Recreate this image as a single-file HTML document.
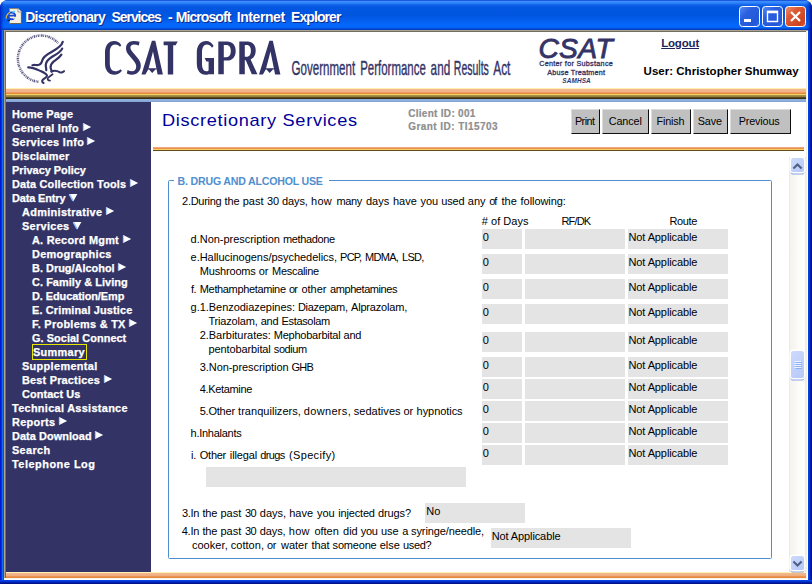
<!DOCTYPE html>
<html><head><meta charset="utf-8"><title>Discretionary Services</title>
<style>
html,body{margin:0;padding:0;}
body{width:812px;height:584px;position:relative;overflow:hidden;background:#fff;font-family:"Liberation Sans",sans-serif;}
div,span,svg{position:absolute;box-sizing:border-box;}
.t{white-space:pre;transform-origin:0 50%;}
.a{overflow:visible;}
#win{left:0;top:0;width:812px;height:584px;border-radius:8px 8px 0 0;overflow:hidden;
 background:#0A4CDC;}
#tb{left:0;top:0;width:812px;height:30px;
 background:linear-gradient(to bottom,#0A3FD0 0px,#3C8EFF 1.5px,#2F82FA 3px,#0F62EA 5px,#0356E1 7px,#0055DF 15px,#035DEC 20px,#0468FC 25px,#0464F6 27.5px,#0350DC 28.6px,#0236AE 30px);}
#bl{left:0;top:30px;width:4px;height:554px;background:linear-gradient(to right,#0019CF 0,#0019CF 1px,#0A34DA 1px,#0A34DA 2px,#166AEE 2px,#166AEE 3px,#0550DC 3px,#0550DC 4px);}
#br{left:808px;top:30px;width:4px;height:554px;background:linear-gradient(to right,#0540E2 0,#0540E2 1px,#0438D8 1px,#0438D8 2px,#001CA8 2px,#001CA8 3px,#00138C 3px,#00138C 4px);}
#bb{left:0;top:580px;width:812px;height:4px;background:linear-gradient(to bottom,#0540E4 0,#0540E4 1px,#0335D0 1px,#0335D0 2px,#001EA8 2px,#001EA8 3px,#00138C 3px,#00138C 4px);}
#in1{left:4px;top:30px;width:804px;height:550px;background:#fff;border-top:1px solid #ACA391;border-left:1px solid #ACA391;}
#in2{left:5px;top:31px;width:801px;height:547px;border-top:1px solid #716F64;border-left:1px solid #716F64;}
#page{left:6px;top:32px;width:800px;height:546px;background:#fff;overflow:hidden;}
/* inside #page coordinates are page-relative, so we shift with a wrapper */
#abs{left:-6px;top:-32px;width:812px;height:584px;}
#stripe{left:6px;top:88px;width:800px;height:14px;
 background:linear-gradient(to bottom,#FFEEB0 0,#FFEEB0 1px,#F2B88C 1px,#EFB389 4px,#EC9C64 4px,#EC9C64 5px,#E8883F 5px,#E8883F 6px,#F2D262 6px,#F2D262 7px,#B09A4C 7px,#8C7838 9px,#5C4A1C 9px,#5C4A1C 10px,#3A2E10 10px,#3A2E10 11px,#90B0DE 11px,#8CACDA 13px,#809FCD 14px);}
#side{left:6px;top:102px;width:145px;height:470px;background:#333366;}
#bstripe{left:6px;top:572px;width:800px;height:6px;
 background:linear-gradient(to bottom,#FFEFB4 0,#FFEFB4 1px,#F1B78B 1px,#F0B286 3px,#EFA878 4px,#EA9452 4px,#EA9452 5px,#E8873E 5px,#E8873E 6px);}
#mstripe{left:153px;top:147px;width:651px;height:4px;
 background:linear-gradient(to bottom,#F0A878 0,#F0A878 1px,#E99058 1px,#E99058 2px,#F8D060 2px,#F8D060 3px,#5E4C1A 3px,#5E4C1A 4px);}
.btn{top:109px;height:25px;background:#C0C0C0;border-top:1px solid #DCDCDC;border-left:1px solid #DCDCDC;border-right:1px solid #101010;border-bottom:1px solid #101010;
 }
.f{height:20px;background:#E4E4E4;}
#fs{left:168px;top:180px;width:604px;height:379px;border:1px solid #4F8FCF;border-radius:1.5px;}
#fsgap{left:174px;top:179px;width:155px;height:3px;background:#fff;}
#sb{left:789px;top:157px;width:17px;height:415px;background:linear-gradient(to right,#ECEBE2 0,#ECEBE2 1px,#F4F3EE 1px,#F8F7F3 6px,#FCFCF9 10px,#FEFEFB 16px,#EFEEE4 16px,#EFEEE4 17px);}
.sbb{left:790.6px;width:13.6px;height:14px;border-radius:2.5px;background:linear-gradient(135deg,#CDDAFC 0,#C3D2FA 45%,#B6C8F7 100%);box-shadow:0 0 0 1.4px #fff,0 2px 0 0.6px #86A6DE;}
</style></head>
<body>
<div style="left:804px;top:0;width:8px;height:8px;background:#FFF6D2"></div>
<div id="win">
 <div id="tb"></div><div style="left:0;top:0;width:4px;height:30px;background:linear-gradient(to right,rgba(0,25,190,0.9) 0,rgba(0,40,200,0.55) 1.5px,rgba(0,50,210,0) 4px)"></div><div style="left:806px;top:0;width:6px;height:30px;background:linear-gradient(to right,rgba(0,30,180,0) 0,rgba(0,30,180,0.45) 3px,rgba(0,20,150,0.95) 5px,#00138C 6px)"></div><div id="bl"></div><div id="br"></div><div id="bb"></div>
 <div id="in1"></div><div id="in2"></div>
 <!-- IE icon -->
 <svg style="left:5px;top:7px" width="18" height="18" viewBox="0 0 18 18">
  <path d="M4.5 1.5H13L16.5 5V16.5H4.5Z" fill="#F4F1E4" stroke="#8C8672" stroke-width="1"/>
  <path d="M13 1.5V5H16.5" fill="#fff" stroke="#8C8672" stroke-width="0.8"/>
  <path d="M5.2 16.5H16.5V5.5" fill="none" stroke="#6A6454" stroke-width="1.2"/>
  <ellipse cx="6.4" cy="8.9" rx="3.7" ry="3.4" fill="none" stroke="#1848D0" stroke-width="2.1"/>
  <path d="M3 8.6H10.6" stroke="#1848D0" stroke-width="1.6"/>
  <path d="M8.0 9.7H11.8V11.7H8.0Z" fill="#F0EDE0"/>
  <path d="M7.6 5.6L9.8 4.2" stroke="#40C8F0" stroke-width="1.4"/>
  <path d="M1.0 11.6C1.2 8.8 2.8 6.4 5.0 5.2" fill="none" stroke="#E0C040" stroke-width="1.1"/>
  <path d="M2.6 13.4H5" stroke="#101020" stroke-width="1"/>
 </svg>
 <span class="t" style="left:25.20px;top:7.95px;font-size:14px;line-height:18px;color:#fff;font-weight:bold;letter-spacing:-0.733px;text-shadow:1px 1px 0 #0A2A8C;">Discretionary</span>
<span class="t" style="left:111.50px;top:7.95px;font-size:14px;line-height:18px;color:#fff;font-weight:bold;letter-spacing:-1.060px;text-shadow:1px 1px 0 #0A2A8C;">Services</span>
<span class="t" style="left:167.90px;top:7.95px;font-size:14px;line-height:18px;color:#fff;font-weight:bold;text-shadow:1px 1px 0 #0A2A8C;">-</span>
<span class="t" style="left:175.70px;top:7.95px;font-size:14px;line-height:18px;color:#fff;font-weight:bold;letter-spacing:-0.917px;text-shadow:1px 1px 0 #0A2A8C;">Microsoft</span>
<span class="t" style="left:236.70px;top:7.95px;font-size:14px;line-height:18px;color:#fff;font-weight:bold;letter-spacing:-0.425px;text-shadow:1px 1px 0 #0A2A8C;">Internet</span>
<span class="t" style="left:291.00px;top:7.95px;font-size:14px;line-height:18px;color:#fff;font-weight:bold;letter-spacing:-0.922px;text-shadow:1px 1px 0 #0A2A8C;">Explorer</span>
 <!-- window buttons -->
 <svg style="left:738px;top:5px" width="70" height="24" viewBox="738 5 70 24">
  <defs>
   <linearGradient id="gb" x1="0" y1="0" x2="1" y2="1"><stop offset="0" stop-color="#5A8CF5"/><stop offset="0.35" stop-color="#2A5FE0"/><stop offset="0.8" stop-color="#2258D8"/><stop offset="1" stop-color="#3A70EE"/></linearGradient>
   <linearGradient id="gr" x1="0" y1="0" x2="1" y2="1"><stop offset="0" stop-color="#EE9070"/><stop offset="0.35" stop-color="#DB5A34"/><stop offset="0.8" stop-color="#CC4320"/><stop offset="1" stop-color="#E0603A"/></linearGradient>
  </defs>
  <rect x="739.5" y="6.5" width="20" height="20" rx="3" fill="url(#gb)" stroke="#fff" stroke-width="1"/>
  <rect x="762.5" y="6.5" width="20" height="20" rx="3" fill="url(#gb)" stroke="#fff" stroke-width="1"/>
  <rect x="785.5" y="6.5" width="20" height="20" rx="3" fill="url(#gr)" stroke="#fff" stroke-width="1"/>
  <rect x="744" y="19" width="7" height="3" fill="#fff"/>
  <path d="M767.5 11.5H777.5V21.5H767.5Z" fill="none" stroke="#fff" stroke-width="1.4"/><path d="M767 12H778" stroke="#fff" stroke-width="2.6"/>
  <path d="M791 12L800 21M800 12L791 21" stroke="#fff" stroke-width="2.2"/>
 </svg>

 <div id="page"><div id="abs">
  <div id="stripe"></div>
  <div id="side"></div>
  <div id="bstripe"></div>
  <div id="mstripe"></div>
  <!-- HHS eagle logo -->
  <svg style="left:12px;top:34px" width="58" height="54" viewBox="12 34 58 54">
   <path d="M38.4 81.8 A23.2 23.2 0 1 1 58.3 43.2" fill="none" stroke="#333366" stroke-width="2.5" stroke-dasharray="1.2 0.7 0.7 0.8 1.5 0.7 0.9 0.9" opacity="0.8"/>
   <g fill="none" stroke="#333366" stroke-linecap="round">
    <path d="M62.8 41.8 C61.8 46 56.5 49.3 51.5 52 C46.5 54.6 43.2 56.6 42.2 60.6 C41.6 63.2 40.6 64.8 38.2 65.0 C36 65.2 34.2 64.6 32.4 65.2" stroke-width="2.2"/>
    <path d="M62.2 48.6 C60.6 52.2 55.8 54.6 51.8 57 C48.2 59.2 46.2 61.4 45.8 64.6 C45.5 67 46.6 68.4 46.2 70.2" stroke-width="2.2"/>
    <path d="M61.4 54.6 C59.6 57.6 56.4 59.4 53.8 61.4 C51.4 63.4 50.4 65.4 50.6 67.6 C50.8 69.4 51.8 70.2 51.6 71.6" stroke-width="2.2"/>
    <path d="M28.2 67.4 C31.6 67.2 35.4 68.8 39.6 70.6 C43.2 72.2 46.4 73.4 47 75.6 C47.4 77.4 44.4 78 42.8 79.8 C41.6 81.2 42.2 82.6 43.6 83.0" stroke-width="2.1"/>
    <path d="M51.4 71.4 C54.2 70.4 57.2 70.8 59.6 72.2 C61.2 73.0 62.6 72.4 64.0 71.2" stroke-width="2.1"/>
    <path d="M52.6 74.2 C50.8 75.6 48.6 76.6 47.8 78.2 C47.2 79.6 48.2 80.6 50.0 80.6" stroke-width="1.8"/>
   </g>
  </svg>
  <!-- CSAT GPRA wordmark -->
  <svg style="left:100px;top:36px" width="420" height="46" viewBox="100 36 420 46">
   <g fill="#333366">
    <!-- C -->
    <path d="M121.3 45.2 C119.6 42.4 117 41 114.2 41 C108.6 41 105 45.4 105 52.5 V63.5 C105 70.4 108.6 74.8 114.2 74.8 C117.2 74.8 120 73.4 121.9 70.8 L120.6 69.2 C118.8 70.6 117 71.2 115.4 71.2 C111.8 71.2 109.8 68.4 109.8 63.5 V52.5 C109.8 47.4 111.8 44.6 115.2 44.6 C117 44.6 118.6 45.4 120.0 46.8 Z"/>
    <!-- S -->
    <path d="M139.6 41.8 L138.8 45.6 C137 44.8 135.4 44.4 134 44.4 C131.6 44.4 130.4 45.8 130.4 47.6 C130.4 49.4 131.4 50.8 133.2 52.8 L137.2 57.4 C139.6 60.2 140.8 62.6 140.8 65.6 C140.8 70.8 137.2 74.8 132 74.8 C130.2 74.8 128.4 74.4 126.8 73.6 L127.6 70 C129 70.8 130.6 71.2 132 71.2 C134.6 71.2 136.2 69.2 136.2 66.4 C136.2 64.4 135.2 62.6 133.2 60.2 L129.2 55.6 C127.0 53 126.0 50.8 126.0 48.2 C126.0 43.8 129.2 41 133.8 41 C135.8 41 137.8 41.2 139.6 41.8 Z"/>
    <!-- A -->
    <path d="M151.9 40.7 H155.3 L162.9 74.5 H157.6 L153.0 51.5 L148.6 68.3 H156.3 V69.6 H155.4 L152.2 72.9 L149.0 69.6 H148.2 L145.4 74.5 H141.5 Z"/>
    <!-- T -->
    <path d="M163.6 41.6 H177.8 L175.6 45.2 H173.2 V74.5 H167.8 V45.2 H163.6 Z"/>
    <!-- G -->
    <path d="M213.6 46.0 C211.8 42.8 209.2 41 206.2 41 C200.6 41 196.8 45.4 196.8 52.5 V63.5 C196.8 70.4 200.2 74.8 205.6 74.8 C206.8 74.8 207.8 74.6 208.6 74.2 V74.3 H214 V58 H204.6 L206.4 61.6 H208.6 V70.4 C207.8 71 207 71.2 206.2 71.2 C203.4 71.2 202.0 68.4 202.0 63.5 V52.5 C202.0 47.4 203.8 44.6 206.8 44.6 C208.8 44.6 210.6 45.8 212.0 47.8 Z"/>
    <!-- P -->
    <path d="M218.3 41.5 H227.2 C232.4 41.5 235.7 45.2 235.7 51 C235.7 56.8 232.4 60.6 227.2 60.6 H223.8 V74.3 H218.3 Z M223.8 45 V57.2 H226.4 C229.2 57.2 230.8 54.9 230.8 51 C230.8 47.2 229.2 45 226.4 45 Z" fill-rule="evenodd"/>
    <!-- R -->
    <path d="M239.3 41.5 H247.6 C252.6 41.5 255.7 45 255.7 50.6 C255.7 55 253.8 58.2 250.6 59.4 L257.4 74.3 H251.8 L245.8 60.2 H244.8 V74.3 H239.3 Z M244.8 45 V56.8 H246.8 C249.4 56.8 250.9 54.6 250.9 50.8 C250.9 47.2 249.4 45 246.8 45 Z" fill-rule="evenodd"/>
    <!-- A -->
    <path transform="translate(117.5 0)" d="M151.9 40.7 H155.3 L162.9 74.5 H157.6 L153.0 51.5 L148.6 68.3 H156.3 V69.6 H155.4 L152.2 72.9 L149.0 69.6 H148.2 L145.4 74.5 H141.5 Z"/>
   </g>
   <g font-family="Liberation Sans" font-size="20.6" fill="#333366" stroke="#333366" stroke-width="0.4" lengthAdjust="spacingAndGlyphs">
    <text x="291.6" y="74.6" textLength="63.6" lengthAdjust="spacingAndGlyphs">Government</text>
    <text x="360.2" y="74.6" textLength="65.6" lengthAdjust="spacingAndGlyphs">Performance</text>
    <text x="430.6" y="74.6" textLength="19.6" lengthAdjust="spacingAndGlyphs">and</text>
    <text x="453.8" y="74.6" textLength="35.0" lengthAdjust="spacingAndGlyphs">Results</text>
    <text x="493.2" y="74.6" textLength="17.2" lengthAdjust="spacingAndGlyphs">Act</text>
   </g>
  </svg>

  <div id="fs"></div><div id="fsgap"></div>
  <div class="f" style="left:482px;top:229px;width:40px"></div><div class="f" style="left:525px;top:229px;width:100px"></div><div class="f" style="left:628px;top:229px;width:100px"></div><div class="f" style="left:482px;top:254px;width:40px"></div><div class="f" style="left:525px;top:254px;width:100px"></div><div class="f" style="left:628px;top:254px;width:100px"></div><div class="f" style="left:482px;top:279px;width:40px"></div><div class="f" style="left:525px;top:279px;width:100px"></div><div class="f" style="left:628px;top:279px;width:100px"></div><div class="f" style="left:482px;top:304px;width:40px"></div><div class="f" style="left:525px;top:304px;width:100px"></div><div class="f" style="left:628px;top:304px;width:100px"></div><div class="f" style="left:482px;top:332px;width:40px"></div><div class="f" style="left:525px;top:332px;width:100px"></div><div class="f" style="left:628px;top:332px;width:100px"></div><div class="f" style="left:482px;top:357px;width:40px"></div><div class="f" style="left:525px;top:357px;width:100px"></div><div class="f" style="left:628px;top:357px;width:100px"></div><div class="f" style="left:482px;top:379px;width:40px"></div><div class="f" style="left:525px;top:379px;width:100px"></div><div class="f" style="left:628px;top:379px;width:100px"></div><div class="f" style="left:482px;top:401px;width:40px"></div><div class="f" style="left:525px;top:401px;width:100px"></div><div class="f" style="left:628px;top:401px;width:100px"></div><div class="f" style="left:482px;top:423px;width:40px"></div><div class="f" style="left:525px;top:423px;width:100px"></div><div class="f" style="left:628px;top:423px;width:100px"></div><div class="f" style="left:482px;top:445px;width:40px"></div><div class="f" style="left:525px;top:445px;width:100px"></div><div class="f" style="left:628px;top:445px;width:100px"></div><div class="f" style="left:206px;top:467px;width:260px"></div><div class="f" style="left:425px;top:503px;width:100px"></div><div class="f" style="left:491px;top:528px;width:140px"></div>
  <div class="btn" style="left:571px;width:29px"></div><div class="btn" style="left:602px;width:47px"></div><div class="btn" style="left:651px;width:40px"></div><div class="btn" style="left:693px;width:35px"></div><div class="btn" style="left:730px;width:61px"></div>
  <span class="t" style="left:661.20px;top:35.72px;font-size:11.5px;line-height:14px;color:#1F1F5C;font-weight:bold;letter-spacing:-0.185px;text-decoration:underline;">Logout</span>
<span class="t" style="left:643.60px;top:63.72px;font-size:11.5px;line-height:14px;color:#000;font-weight:bold;letter-spacing:0.015px;">User: Christopher Shumway</span>
<span class="t" style="left:538.40px;top:30.23px;font-size:28.2px;line-height:37px;color:#333366;font-style:italic;letter-spacing:0.378px;-webkit-text-stroke:0.9px #333366;">CSAT</span>
<span class="t" style="left:539.20px;top:56.71px;font-size:7.2px;line-height:14px;color:#333366;letter-spacing:0.299px;-webkit-text-stroke:0.3px #333366;">Center for Substance</span>
<span class="t" style="left:547.30px;top:65.71px;font-size:7.2px;line-height:14px;color:#333366;letter-spacing:0.210px;-webkit-text-stroke:0.3px #333366;">Abuse Treatment</span>
<span class="t" style="left:562.30px;top:73.98px;font-size:6.4px;line-height:14px;color:#333366;font-weight:bold;font-style:italic;letter-spacing:0.144px;">SAMHSA</span>
<span class="t" style="left:161.53px;top:110.11px;font-size:17px;line-height:22px;color:#000099;letter-spacing:0.626px;transform:scaleX(1.07);">Discretionary Services</span>
<span class="t" style="left:408.20px;top:107.23px;font-size:10px;line-height:14px;color:#8E8E8E;font-weight:bold;letter-spacing:0.293px;-webkit-text-stroke:0.2px #8E8E8E;">Client ID: 001</span>
<span class="t" style="left:408.20px;top:120.44px;font-size:10px;line-height:14px;color:#8E8E8E;font-weight:bold;letter-spacing:0.444px;-webkit-text-stroke:0.2px #8E8E8E;">Grant ID: TI15703</span>
<span class="t" style="left:11.60px;top:108.37px;font-size:10.2px;line-height:14px;color:#fff;font-weight:bold;letter-spacing:0.184px;transform:scaleX(1.07);-webkit-text-stroke:0.25px #fff;">Home Page</span>
<span class="t" style="left:11.60px;top:122.37px;font-size:10.2px;line-height:14px;color:#fff;font-weight:bold;letter-spacing:0.258px;transform:scaleX(1.07);-webkit-text-stroke:0.25px #fff;">General Info</span>
<span class="t" style="left:11.60px;top:136.37px;font-size:10.2px;line-height:14px;color:#fff;font-weight:bold;letter-spacing:0.310px;transform:scaleX(1.07);-webkit-text-stroke:0.25px #fff;">Services Info</span>
<span class="t" style="left:11.60px;top:150.37px;font-size:10.2px;line-height:14px;color:#fff;font-weight:bold;letter-spacing:0.210px;transform:scaleX(1.07);-webkit-text-stroke:0.25px #fff;">Disclaimer</span>
<span class="t" style="left:11.60px;top:164.37px;font-size:10.2px;line-height:14px;color:#fff;font-weight:bold;letter-spacing:-0.006px;transform:scaleX(1.07);-webkit-text-stroke:0.25px #fff;">Privacy Policy</span>
<span class="t" style="left:11.60px;top:178.37px;font-size:10.2px;line-height:14px;color:#fff;font-weight:bold;letter-spacing:0.160px;transform:scaleX(1.07);-webkit-text-stroke:0.25px #fff;">Data Collection Tools</span>
<span class="t" style="left:11.60px;top:192.37px;font-size:10.2px;line-height:14px;color:#fff;font-weight:bold;letter-spacing:-0.101px;transform:scaleX(1.07);-webkit-text-stroke:0.25px #fff;">Data Entry</span>
<span class="t" style="left:21.70px;top:206.37px;font-size:10.2px;line-height:14px;color:#fff;font-weight:bold;letter-spacing:0.304px;transform:scaleX(1.07);-webkit-text-stroke:0.25px #fff;">Administrative</span>
<span class="t" style="left:21.70px;top:220.37px;font-size:10.2px;line-height:14px;color:#fff;font-weight:bold;letter-spacing:0.306px;transform:scaleX(1.07);-webkit-text-stroke:0.25px #fff;">Services</span>
<span class="t" style="left:31.60px;top:234.37px;font-size:10.2px;line-height:14px;color:#fff;font-weight:bold;letter-spacing:0.228px;transform:scaleX(1.07);-webkit-text-stroke:0.25px #fff;">A. Record Mgmt</span>
<span class="t" style="left:31.60px;top:248.37px;font-size:10.2px;line-height:14px;color:#fff;font-weight:bold;letter-spacing:0.308px;transform:scaleX(1.07);-webkit-text-stroke:0.25px #fff;">Demographics</span>
<span class="t" style="left:31.60px;top:262.37px;font-size:10.2px;line-height:14px;color:#fff;font-weight:bold;letter-spacing:0.018px;transform:scaleX(1.07);-webkit-text-stroke:0.25px #fff;">B. Drug/Alcohol</span>
<span class="t" style="left:31.60px;top:276.37px;font-size:10.2px;line-height:14px;color:#fff;font-weight:bold;letter-spacing:0.063px;transform:scaleX(1.07);-webkit-text-stroke:0.25px #fff;">C. Family &amp; Living</span>
<span class="t" style="left:31.60px;top:290.37px;font-size:10.2px;line-height:14px;color:#fff;font-weight:bold;letter-spacing:-0.058px;transform:scaleX(1.07);-webkit-text-stroke:0.25px #fff;">D. Education/Emp</span>
<span class="t" style="left:31.60px;top:304.37px;font-size:10.2px;line-height:14px;color:#fff;font-weight:bold;letter-spacing:0.141px;transform:scaleX(1.07);-webkit-text-stroke:0.25px #fff;">E. Criminal Justice</span>
<span class="t" style="left:31.60px;top:318.37px;font-size:10.2px;line-height:14px;color:#fff;font-weight:bold;letter-spacing:0.270px;transform:scaleX(1.07);-webkit-text-stroke:0.25px #fff;">F. Problems &amp; TX</span>
<span class="t" style="left:31.60px;top:332.37px;font-size:10.2px;line-height:14px;color:#fff;font-weight:bold;letter-spacing:0.057px;transform:scaleX(1.07);-webkit-text-stroke:0.25px #fff;">G. Social Connect</span>
<span class="t" style="left:33.40px;top:346.37px;font-size:10.2px;line-height:14px;color:#fff;font-weight:bold;letter-spacing:0.306px;transform:scaleX(1.07);-webkit-text-stroke:0.25px #fff;">Summary</span>
<span class="t" style="left:21.70px;top:360.37px;font-size:10.2px;line-height:14px;color:#fff;font-weight:bold;letter-spacing:0.318px;transform:scaleX(1.07);-webkit-text-stroke:0.25px #fff;">Supplemental</span>
<span class="t" style="left:21.70px;top:374.37px;font-size:10.2px;line-height:14px;color:#fff;font-weight:bold;letter-spacing:0.187px;transform:scaleX(1.07);-webkit-text-stroke:0.25px #fff;">Best Practices</span>
<span class="t" style="left:21.70px;top:388.37px;font-size:10.2px;line-height:14px;color:#fff;font-weight:bold;letter-spacing:0.073px;transform:scaleX(1.07);-webkit-text-stroke:0.25px #fff;">Contact Us</span>
<span class="t" style="left:11.60px;top:402.37px;font-size:10.2px;line-height:14px;color:#fff;font-weight:bold;letter-spacing:0.289px;transform:scaleX(1.07);-webkit-text-stroke:0.25px #fff;">Technical Assistance</span>
<span class="t" style="left:11.60px;top:416.37px;font-size:10.2px;line-height:14px;color:#fff;font-weight:bold;letter-spacing:0.289px;transform:scaleX(1.07);-webkit-text-stroke:0.25px #fff;">Reports</span>
<span class="t" style="left:11.60px;top:430.37px;font-size:10.2px;line-height:14px;color:#fff;font-weight:bold;letter-spacing:0.071px;transform:scaleX(1.07);-webkit-text-stroke:0.25px #fff;">Data Download</span>
<span class="t" style="left:11.60px;top:444.37px;font-size:10.2px;line-height:14px;color:#fff;font-weight:bold;letter-spacing:0.314px;transform:scaleX(1.07);-webkit-text-stroke:0.25px #fff;">Search</span>
<span class="t" style="left:11.60px;top:458.37px;font-size:10.2px;line-height:14px;color:#fff;font-weight:bold;letter-spacing:0.486px;transform:scaleX(1.07);-webkit-text-stroke:0.25px #fff;">Telephone Log</span>
<span class="t" style="left:574.90px;top:113.66px;font-size:10.8px;line-height:14px;color:#000;letter-spacing:-0.525px;">Print</span>
<span class="t" style="left:608.70px;top:113.66px;font-size:10.8px;line-height:14px;color:#000;letter-spacing:-0.102px;">Cancel</span>
<span class="t" style="left:656.50px;top:113.66px;font-size:10.8px;line-height:14px;color:#000;letter-spacing:-0.179px;">Finish</span>
<span class="t" style="left:697.70px;top:113.66px;font-size:10.8px;line-height:14px;color:#000;letter-spacing:-0.068px;">Save</span>
<span class="t" style="left:738.70px;top:113.66px;font-size:10.8px;line-height:14px;color:#000;letter-spacing:-0.144px;">Previous</span>
<span class="t" style="left:177.60px;top:174.13px;font-size:10.6px;line-height:14px;color:#4F8FCF;font-weight:bold;letter-spacing:-0.200px;">B. DRUG AND ALCOHOL USE</span>
<span class="t" style="left:481.80px;top:213.59px;font-size:11px;line-height:14px;color:#000;letter-spacing:0.029px;"># of Days</span>
<span class="t" style="left:561.40px;top:213.59px;font-size:11px;line-height:14px;color:#000;letter-spacing:-0.816px;">RF/DK</span>
<span class="t" style="left:669.40px;top:213.59px;font-size:11px;line-height:14px;color:#000;letter-spacing:-0.334px;">Route</span>
<span class="t" style="left:182.10px;top:193.69px;font-size:11px;line-height:14px;color:#000;letter-spacing:-0.297px;">2.During</span>
<span class="t" style="left:224.60px;top:193.69px;font-size:11px;line-height:14px;color:#000;letter-spacing:-0.137px;">the</span>
<span class="t" style="left:242.70px;top:193.69px;font-size:11px;line-height:14px;color:#000;">past</span>
<span class="t" style="left:267.10px;top:193.69px;font-size:11px;line-height:14px;color:#000;letter-spacing:-0.318px;">30</span>
<span class="t" style="left:282.10px;top:193.69px;font-size:11px;line-height:14px;color:#000;letter-spacing:-0.134px;">days,</span>
<span class="t" style="left:311.00px;top:193.69px;font-size:11px;line-height:14px;color:#000;letter-spacing:0.282px;">how</span>
<span class="t" style="left:336.60px;top:193.69px;font-size:11px;line-height:14px;color:#000;letter-spacing:-0.399px;">many</span>
<span class="t" style="left:366.00px;top:193.69px;font-size:11px;line-height:14px;color:#000;letter-spacing:-0.012px;">days</span>
<span class="t" style="left:392.90px;top:193.69px;font-size:11px;line-height:14px;color:#000;">have</span>
<span class="t" style="left:420.40px;top:193.69px;font-size:11px;line-height:14px;color:#000;">you</span>
<span class="t" style="left:441.30px;top:193.69px;font-size:11px;line-height:14px;color:#000;letter-spacing:-0.145px;">used</span>
<span class="t" style="left:467.80px;top:193.69px;font-size:11px;line-height:14px;color:#000;letter-spacing:-0.018px;">any</span>
<span class="t" style="left:489.20px;top:193.69px;font-size:11px;line-height:14px;color:#000;letter-spacing:-1.018px;">of</span>
<span class="t" style="left:501.50px;top:193.69px;font-size:11px;line-height:14px;color:#000;">the</span>
<span class="t" style="left:520.60px;top:193.69px;font-size:11px;line-height:14px;color:#000;letter-spacing:-0.067px;">following:</span>
<span class="t" style="left:190.60px;top:232.19px;font-size:11px;line-height:14px;color:#000;letter-spacing:-0.028px;">d.Non-prescription</span>
<span class="t" style="left:283.00px;top:232.19px;font-size:11px;line-height:14px;color:#000;letter-spacing:-0.353px;">methadone</span>
<span class="t" style="left:190.60px;top:250.19px;font-size:11px;line-height:14px;color:#000;letter-spacing:-0.031px;">e.Hallucinogens/psychedelics,</span>
<span class="t" style="left:340.10px;top:250.19px;font-size:11px;line-height:14px;color:#000;letter-spacing:-0.800px;">PCP,</span>
<span class="t" style="left:365.10px;top:250.19px;font-size:11px;line-height:14px;color:#000;letter-spacing:-0.727px;">MDMA,</span>
<span class="t" style="left:402.00px;top:250.19px;font-size:11px;line-height:14px;color:#000;letter-spacing:-0.733px;">LSD,</span>
<span class="t" style="left:199.80px;top:264.19px;font-size:11px;line-height:14px;color:#000;letter-spacing:-0.182px;">Mushrooms</span>
<span class="t" style="left:258.80px;top:264.19px;font-size:11px;line-height:14px;color:#000;letter-spacing:-0.118px;">or</span>
<span class="t" style="left:272.00px;top:264.19px;font-size:11px;line-height:14px;color:#000;letter-spacing:-0.288px;">Mescaline</span>
<span class="t" style="left:190.90px;top:282.19px;font-size:11px;line-height:14px;color:#000;letter-spacing:-0.356px;">f.</span>
<span class="t" style="left:199.80px;top:282.19px;font-size:11px;line-height:14px;color:#000;letter-spacing:-0.350px;">Methamphetamine</span>
<span class="t" style="left:289.00px;top:282.19px;font-size:11px;line-height:14px;color:#000;letter-spacing:-0.818px;">or</span>
<span class="t" style="left:301.50px;top:282.19px;font-size:11px;line-height:14px;color:#000;letter-spacing:-0.027px;">other</span>
<span class="t" style="left:330.00px;top:282.19px;font-size:11px;line-height:14px;color:#000;letter-spacing:-0.423px;">amphetamines</span>
<span class="t" style="left:190.60px;top:300.19px;font-size:11px;line-height:14px;color:#000;letter-spacing:-0.041px;">g.1.Benzodiazepines:</span>
<span class="t" style="left:298.00px;top:300.19px;font-size:11px;line-height:14px;color:#000;letter-spacing:-0.322px;">Diazepam,</span>
<span class="t" style="left:351.00px;top:300.19px;font-size:11px;line-height:14px;color:#000;letter-spacing:-0.182px;">Alprazolam,</span>
<span class="t" style="left:208.50px;top:314.19px;font-size:11px;line-height:14px;color:#000;letter-spacing:-0.193px;">Triazolam,</span>
<span class="t" style="left:260.70px;top:314.19px;font-size:11px;line-height:14px;color:#000;letter-spacing:-0.268px;">and</span>
<span class="t" style="left:281.60px;top:314.19px;font-size:11px;line-height:14px;color:#000;letter-spacing:-0.349px;">Estasolam</span>
<span class="t" style="left:199.70px;top:328.19px;font-size:11px;line-height:14px;color:#000;letter-spacing:-0.031px;">2.Barbiturates:</span>
<span class="t" style="left:273.80px;top:328.19px;font-size:11px;line-height:14px;color:#000;letter-spacing:-0.243px;">Mephobarbital</span>
<span class="t" style="left:343.60px;top:328.19px;font-size:11px;line-height:14px;color:#000;letter-spacing:-0.318px;">and</span>
<span class="t" style="left:208.50px;top:342.19px;font-size:11px;line-height:14px;color:#000;letter-spacing:-0.109px;">pentobarbital</span>
<span class="t" style="left:273.80px;top:342.19px;font-size:11px;line-height:14px;color:#000;letter-spacing:-0.419px;">sodium</span>
<span class="t" style="left:199.70px;top:360.19px;font-size:11px;line-height:14px;color:#000;letter-spacing:-0.057px;">3.Non-prescription</span>
<span class="t" style="left:291.60px;top:360.19px;font-size:11px;line-height:14px;color:#000;letter-spacing:-0.850px;">GHB</span>
<span class="t" style="left:199.70px;top:382.19px;font-size:11px;line-height:14px;color:#000;letter-spacing:-0.336px;">4.Ketamine</span>
<span class="t" style="left:199.70px;top:404.19px;font-size:11px;line-height:14px;color:#000;letter-spacing:-0.214px;">5.Other</span>
<span class="t" style="left:238.10px;top:404.19px;font-size:11px;line-height:14px;color:#000;letter-spacing:0.026px;">tranquilizers,</span>
<span class="t" style="left:303.80px;top:404.19px;font-size:11px;line-height:14px;color:#000;letter-spacing:0.324px;">downers,</span>
<span class="t" style="left:353.70px;top:404.19px;font-size:11px;line-height:14px;color:#000;letter-spacing:0.054px;">sedatives</span>
<span class="t" style="left:403.60px;top:404.19px;font-size:11px;line-height:14px;color:#000;letter-spacing:-0.318px;">or</span>
<span class="t" style="left:416.60px;top:404.19px;font-size:11px;line-height:14px;color:#000;letter-spacing:-0.059px;">hypnotics</span>
<span class="t" style="left:190.60px;top:426.19px;font-size:11px;line-height:14px;color:#000;letter-spacing:-0.272px;">h.Inhalants</span>
<span class="t" style="left:190.90px;top:448.19px;font-size:11px;line-height:14px;color:#000;">i.</span>
<span class="t" style="left:199.80px;top:448.19px;font-size:11px;line-height:14px;color:#000;letter-spacing:-0.262px;">Other</span>
<span class="t" style="left:229.80px;top:448.19px;font-size:11px;line-height:14px;color:#000;letter-spacing:-0.105px;">illegal</span>
<span class="t" style="left:260.30px;top:448.19px;font-size:11px;line-height:14px;color:#000;letter-spacing:-0.629px;">drugs</span>
<span class="t" style="left:289.00px;top:448.19px;font-size:11px;line-height:14px;color:#000;letter-spacing:0.346px;">(Specify)</span>
<span class="t" style="left:182.10px;top:505.79px;font-size:11px;line-height:14px;color:#000;letter-spacing:-0.377px;">3.In</span>
<span class="t" style="left:202.40px;top:505.79px;font-size:11px;line-height:14px;color:#000;letter-spacing:-0.137px;">the</span>
<span class="t" style="left:220.50px;top:505.79px;font-size:11px;line-height:14px;color:#000;">past</span>
<span class="t" style="left:244.90px;top:505.79px;font-size:11px;line-height:14px;color:#000;letter-spacing:-0.418px;">30</span>
<span class="t" style="left:259.80px;top:505.79px;font-size:11px;line-height:14px;color:#000;letter-spacing:-0.009px;">days,</span>
<span class="t" style="left:289.20px;top:505.79px;font-size:11px;line-height:14px;color:#000;">have</span>
<span class="t" style="left:317.00px;top:505.79px;font-size:11px;line-height:14px;color:#000;">you</span>
<span class="t" style="left:338.20px;top:505.79px;font-size:11px;line-height:14px;color:#000;letter-spacing:-0.159px;">injected</span>
<span class="t" style="left:378.00px;top:505.79px;font-size:11px;line-height:14px;color:#000;letter-spacing:-0.103px;">drugs?</span>
<span class="t" style="left:181.70px;top:523.59px;font-size:11px;line-height:14px;color:#000;letter-spacing:-0.243px;">4.In</span>
<span class="t" style="left:202.40px;top:523.59px;font-size:11px;line-height:14px;color:#000;letter-spacing:-0.137px;">the</span>
<span class="t" style="left:220.50px;top:523.59px;font-size:11px;line-height:14px;color:#000;">past</span>
<span class="t" style="left:244.90px;top:523.59px;font-size:11px;line-height:14px;color:#000;letter-spacing:-0.418px;">30</span>
<span class="t" style="left:259.80px;top:523.59px;font-size:11px;line-height:14px;color:#000;letter-spacing:-0.109px;">days,</span>
<span class="t" style="left:288.80px;top:523.59px;font-size:11px;line-height:14px;color:#000;letter-spacing:0.282px;">how</span>
<span class="t" style="left:314.40px;top:523.59px;font-size:11px;line-height:14px;color:#000;">often</span>
<span class="t" style="left:343.10px;top:523.59px;font-size:11px;line-height:14px;color:#000;letter-spacing:-0.081px;">did</span>
<span class="t" style="left:360.70px;top:523.59px;font-size:11px;line-height:14px;color:#000;letter-spacing:-0.259px;">you</span>
<span class="t" style="left:381.00px;top:523.59px;font-size:11px;line-height:14px;color:#000;">use</span>
<span class="t" style="left:402.20px;top:523.59px;font-size:11px;line-height:14px;color:#000;">a</span>
<span class="t" style="left:411.10px;top:523.59px;font-size:11px;line-height:14px;color:#000;letter-spacing:-0.118px;">syringe/needle,</span>
<span class="t" style="left:191.90px;top:537.59px;font-size:11px;line-height:14px;color:#000;letter-spacing:0.056px;">cooker,</span>
<span class="t" style="left:230.70px;top:537.59px;font-size:11px;line-height:14px;color:#000;letter-spacing:0.046px;">cotton,</span>
<span class="t" style="left:267.00px;top:537.59px;font-size:11px;line-height:14px;color:#000;letter-spacing:-0.318px;">or</span>
<span class="t" style="left:281.00px;top:537.59px;font-size:11px;line-height:14px;color:#000;">water</span>
<span class="t" style="left:311.50px;top:537.59px;font-size:11px;line-height:14px;color:#000;letter-spacing:-0.131px;">that</span>
<span class="t" style="left:332.60px;top:537.59px;font-size:11px;line-height:14px;color:#000;letter-spacing:-0.192px;">someone</span>
<span class="t" style="left:379.70px;top:537.59px;font-size:11px;line-height:14px;color:#000;">else</span>
<span class="t" style="left:403.10px;top:537.59px;font-size:11px;line-height:14px;color:#000;letter-spacing:-0.388px;">used?</span>
<span class="t" style="left:482.80px;top:229.89px;font-size:11px;line-height:14px;color:#000;">0</span>
<span class="t" style="left:628.50px;top:229.89px;font-size:11px;line-height:14px;color:#000;letter-spacing:-0.109px;">Not Applicable</span>
<span class="t" style="left:482.80px;top:254.89px;font-size:11px;line-height:14px;color:#000;">0</span>
<span class="t" style="left:628.50px;top:254.89px;font-size:11px;line-height:14px;color:#000;letter-spacing:-0.109px;">Not Applicable</span>
<span class="t" style="left:482.80px;top:279.89px;font-size:11px;line-height:14px;color:#000;">0</span>
<span class="t" style="left:628.50px;top:279.89px;font-size:11px;line-height:14px;color:#000;letter-spacing:-0.109px;">Not Applicable</span>
<span class="t" style="left:482.80px;top:304.89px;font-size:11px;line-height:14px;color:#000;">0</span>
<span class="t" style="left:628.50px;top:304.89px;font-size:11px;line-height:14px;color:#000;letter-spacing:-0.109px;">Not Applicable</span>
<span class="t" style="left:482.80px;top:332.89px;font-size:11px;line-height:14px;color:#000;">0</span>
<span class="t" style="left:628.50px;top:332.89px;font-size:11px;line-height:14px;color:#000;letter-spacing:-0.109px;">Not Applicable</span>
<span class="t" style="left:482.80px;top:357.89px;font-size:11px;line-height:14px;color:#000;">0</span>
<span class="t" style="left:628.50px;top:357.89px;font-size:11px;line-height:14px;color:#000;letter-spacing:-0.109px;">Not Applicable</span>
<span class="t" style="left:482.80px;top:379.89px;font-size:11px;line-height:14px;color:#000;">0</span>
<span class="t" style="left:628.50px;top:379.89px;font-size:11px;line-height:14px;color:#000;letter-spacing:-0.109px;">Not Applicable</span>
<span class="t" style="left:482.80px;top:401.89px;font-size:11px;line-height:14px;color:#000;">0</span>
<span class="t" style="left:628.50px;top:401.89px;font-size:11px;line-height:14px;color:#000;letter-spacing:-0.109px;">Not Applicable</span>
<span class="t" style="left:482.80px;top:423.89px;font-size:11px;line-height:14px;color:#000;">0</span>
<span class="t" style="left:628.50px;top:423.89px;font-size:11px;line-height:14px;color:#000;letter-spacing:-0.109px;">Not Applicable</span>
<span class="t" style="left:482.80px;top:445.89px;font-size:11px;line-height:14px;color:#000;">0</span>
<span class="t" style="left:628.50px;top:445.89px;font-size:11px;line-height:14px;color:#000;letter-spacing:-0.109px;">Not Applicable</span>
<span class="t" style="left:426.20px;top:503.89px;font-size:11px;line-height:14px;color:#000;">No</span>
<span class="t" style="left:491.70px;top:528.99px;font-size:11px;line-height:14px;color:#000;letter-spacing:-0.109px;">Not Applicable</span>
  <svg class="a" style="left:82.7px;top:123.4px" width="9" height="9" viewBox="0 0 9 9"><path d="M0.2 0 L8.2 4.0 L0.2 8.0 Z" fill="#fff"/><path d="M0.5 0.3V7.7" stroke="#a8c8f8" stroke-width="1.3"/></svg><svg class="a" style="left:87.3px;top:137.4px" width="9" height="9" viewBox="0 0 9 9"><path d="M0.2 0 L8.2 4.0 L0.2 8.0 Z" fill="#fff"/><path d="M0.5 0.3V7.7" stroke="#a8c8f8" stroke-width="1.3"/></svg><svg class="a" style="left:130.1px;top:179.4px" width="9" height="9" viewBox="0 0 9 9"><path d="M0.2 0 L8.2 4.0 L0.2 8.0 Z" fill="#fff"/><path d="M0.5 0.3V7.7" stroke="#a8c8f8" stroke-width="1.3"/></svg><svg class="a" style="left:68.8px;top:193.9px" width="9" height="9" viewBox="0 0 9 9"><path d="M0 0.1 L8.4 0.1 L4.2 7.4 Z" fill="#fff"/><path d="M0.4 0.4 L4.0 6.9" stroke="#90b8f8" stroke-width="1.5"/></svg><svg class="a" style="left:106.3px;top:207.4px" width="9" height="9" viewBox="0 0 9 9"><path d="M0.2 0 L8.2 4.0 L0.2 8.0 Z" fill="#fff"/><path d="M0.5 0.3V7.7" stroke="#a8c8f8" stroke-width="1.3"/></svg><svg class="a" style="left:73.4px;top:221.9px" width="9" height="9" viewBox="0 0 9 9"><path d="M0 0.1 L8.4 0.1 L4.2 7.4 Z" fill="#fff"/><path d="M0.4 0.4 L4.0 6.9" stroke="#90b8f8" stroke-width="1.5"/></svg><svg class="a" style="left:123.3px;top:235.4px" width="9" height="9" viewBox="0 0 9 9"><path d="M0.2 0 L8.2 4.0 L0.2 8.0 Z" fill="#fff"/><path d="M0.5 0.3V7.7" stroke="#a8c8f8" stroke-width="1.3"/></svg><svg class="a" style="left:118.3px;top:263.4px" width="9" height="9" viewBox="0 0 9 9"><path d="M0.2 0 L8.2 4.0 L0.2 8.0 Z" fill="#fff"/><path d="M0.5 0.3V7.7" stroke="#a8c8f8" stroke-width="1.3"/></svg><svg class="a" style="left:129.4px;top:319.4px" width="9" height="9" viewBox="0 0 9 9"><path d="M0.2 0 L8.2 4.0 L0.2 8.0 Z" fill="#fff"/><path d="M0.5 0.3V7.7" stroke="#a8c8f8" stroke-width="1.3"/></svg><svg class="a" style="left:104.3px;top:375.4px" width="9" height="9" viewBox="0 0 9 9"><path d="M0.2 0 L8.2 4.0 L0.2 8.0 Z" fill="#fff"/><path d="M0.5 0.3V7.7" stroke="#a8c8f8" stroke-width="1.3"/></svg><svg class="a" style="left:59.2px;top:417.4px" width="9" height="9" viewBox="0 0 9 9"><path d="M0.2 0 L8.2 4.0 L0.2 8.0 Z" fill="#fff"/><path d="M0.5 0.3V7.7" stroke="#a8c8f8" stroke-width="1.3"/></svg><svg class="a" style="left:95.2px;top:431.4px" width="9" height="9" viewBox="0 0 9 9"><path d="M0.2 0 L8.2 4.0 L0.2 8.0 Z" fill="#fff"/><path d="M0.5 0.3V7.7" stroke="#a8c8f8" stroke-width="1.3"/></svg>
  <div style="left:32px;top:344px;width:55px;height:16px;border:1px solid #E6E600;"></div>
  <!-- scrollbar -->
  <div id="sb"></div>
  <div class="sbb" style="top:158.3px"></div>
  <div class="sbb" style="top:556.3px"></div>
  <div class="sbb" style="top:351.3px;height:27px"></div>
  <svg style="left:789px;top:157px" width="17" height="415" viewBox="789 157 17 415">
   <path d="M793.4 168.6L797.5 164.5L801.6 168.6" fill="none" stroke="#4D6185" stroke-width="2.1"/>
   <path d="M793.4 561.4L797.5 565.5L801.6 561.4" fill="none" stroke="#4D6185" stroke-width="2.1"/>
   <path d="M794.5 361.5H801M794.5 363.5H801M794.5 365.5H801M794.5 367.5H801" stroke="#EEF4FE" stroke-width="1"/>
   <path d="M795.5 362.5H802M795.5 364.5H802M795.5 366.5H802M795.5 368.5H802" stroke="#8CB0F8" stroke-width="1"/>
  </svg>
 </div></div>
 <!-- bottom/right white inset -->
 <div style="left:806px;top:31px;width:2px;height:549px;background:linear-gradient(to right,#F1EFE2 0,#F1EFE2 1px,#fff 1px,#fff 2px)"></div>
 <div style="left:4px;top:578px;width:804px;height:2px;background:linear-gradient(to bottom,#F6F4EA 0,#F6F4EA 1px,#fff 1px,#fff 2px)"></div>
</div>
</body></html>
